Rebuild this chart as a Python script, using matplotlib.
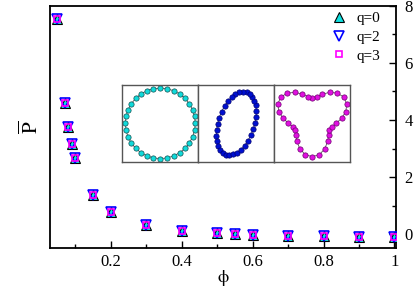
import numpy as np
import matplotlib
matplotlib.use("Agg")
import matplotlib.pyplot as plt
from matplotlib.ticker import MultipleLocator

plt.rcParams["font.family"] = ["Liberation Serif", "DejaVu Serif"]
plt.rcParams["mathtext.fontset"] = "stix"

# data
phi = [0.05, 0.07, 0.08, 0.09, 0.10, 0.15, 0.20, 0.30, 0.40, 0.50, 0.55, 0.60, 0.70, 0.80, 0.90, 1.00]
p_q0 = [7.55, 4.60, 3.77, 3.15, 2.66, 1.37, 0.78, 0.31, 0.11, 0.03, 0.00, -0.02, -0.06, -0.08, -0.09, -0.10]
p_q2 = [7.55, 4.60, 3.77, 3.15, 2.66, 1.37, 0.78, 0.31, 0.11, 0.03, 0.00, -0.02, -0.06, -0.08, -0.09, -0.10]
p_q3 = [7.55, 4.60, 3.77, 3.15, 2.66, 1.37, 0.78, 0.31, 0.11, 0.03, 0.00, -0.02, -0.06, -0.08, -0.09, -0.10]
labels = ["q=0", "q=2", "q=3"]

# inset shapes: (mode, size, aspect/amplitude, tilt in degrees, vertical offset)
shape_modes = [0, 2, 3]
shape_size = [0.92, 0.86, 0.77]
shape_param = [1.0, 0.55, 0.30]
shape_tilt = [0, 71.5, 0]
shape_yoff = [0.0, 0.0, 0.13]
n_beads = 32

fig = plt.figure(figsize=(4.15, 2.97), dpi=100)
ax = fig.add_axes([0.1205, 0.164, 0.8335, 0.816])

ax.plot(phi, p_q0, ls="none", marker="^", ms=7.5, mfc="#10e0e0", mec="black", mew=0.8,
        label=labels[0], zorder=3)
ax.plot(phi, p_q2, ls="none", marker="v", ms=7.5, mfc="none", mec="#0000ff", mew=1.2,
        label=labels[1], zorder=4)
ax.plot(phi, p_q3, ls="none", marker="s", ms=4.6, mfc="none", mec="#ff00ff", mew=1.2,
        label=labels[2], zorder=5)

ax.set_xlim(0.029, 1.004)
ax.set_ylim(-0.5, 8.0)
ax.xaxis.set_minor_locator(MultipleLocator(0.1))
ax.yaxis.set_major_locator(MultipleLocator(2))
ax.yaxis.set_minor_locator(MultipleLocator(1))
ax.set_xticks([0.2, 0.4, 0.6, 0.8, 1.0])
ax.set_xticklabels(["0.2", "0.4", "0.6", "0.8", "1"])
ax.yaxis.tick_right()
ax.tick_params(which="both", direction="in", labelsize=12, top=False, left=False)
ax.tick_params(which="major", length=5, width=1)
ax.tick_params(which="minor", length=3, width=1)
ax.tick_params(axis="y", pad=6)
ax.tick_params(axis="x", pad=4)
for s in ax.spines.values():
    s.set_linewidth(1.3)

ax.set_xlabel(r"$\mathrm{\phi}$", fontsize=13, labelpad=-1)
fig.text(0.076, 0.572, r"$\overline{\mathrm{P}}$", rotation=90, fontsize=15,
         ha="center", va="center")

ax.legend(loc="upper right", bbox_to_anchor=(0.985, 1.02), frameon=False, fontsize=11,
          handlelength=1.0, handletextpad=0.6, labelspacing=0.32, borderaxespad=0.3)

# inset shapes
bead_colors = ["#10dada", "#0010d0", "#e010e0"]
bead_edges = ["#105050", "#000070", "#700070"]
t = np.linspace(0, 2 * np.pi, n_beads, endpoint=False)
box_w = 76 / 415
box_h = 76.7 / 297
for i in range(3):
    iax = fig.add_axes([122.3 / 415 + i * box_w, (297 - 161.7) / 297, box_w, box_h])
    if shape_modes[i] == 0:
        x = shape_size[i] * np.cos(t)
        y = shape_size[i] * np.sin(t)
    elif shape_modes[i] == 2:
        a, b = shape_size[i], shape_size[i] * shape_param[i]
        th = np.deg2rad(shape_tilt[i])
        u, v = a * np.cos(t), b * np.sin(t)
        x = u * np.cos(th) - v * np.sin(th)
        y = u * np.sin(th) + v * np.cos(th)
    else:
        r = shape_size[i] * (1 + shape_param[i] * np.sin(3 * t))
        x = r * np.cos(t)
        y = r * np.sin(t) + shape_yoff[i]
    xc = np.append(x, x[0])
    yc = np.append(y, y[0])
    iax.plot(xc, yc, color="#555555", lw=0.6, zorder=1)
    iax.plot(x, y, ls="none", marker="o", ms=3.8, mfc=bead_colors[i], mec=bead_edges[i],
             mew=0.5, zorder=2)
    iax.set_xlim(-1, 1)
    iax.set_ylim(-1, 1)
    iax.set_xticks([])
    iax.set_yticks([])
    for s in iax.spines.values():
        s.set_color("#555555")
        s.set_linewidth(1.0)

fig.savefig("out.png", dpi=100)
